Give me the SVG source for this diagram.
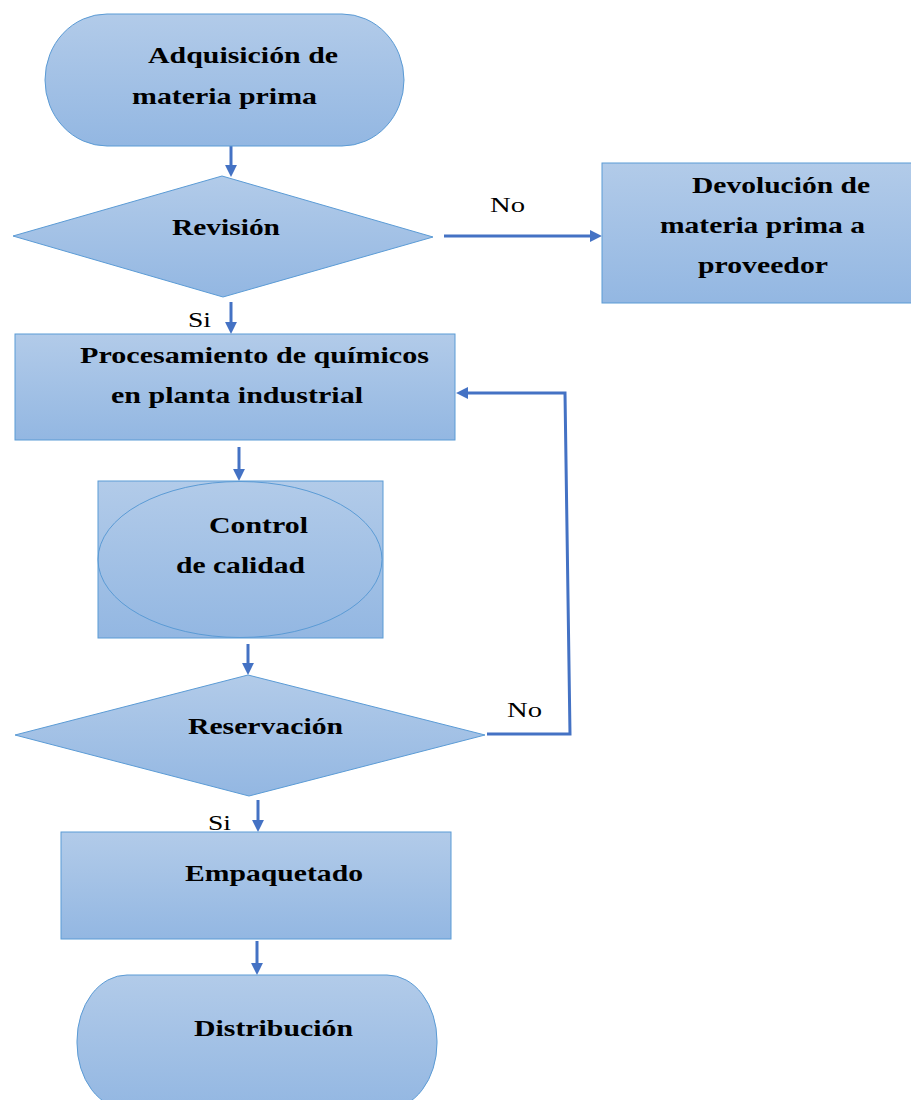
<svg xmlns="http://www.w3.org/2000/svg" width="911" height="1100" viewBox="0 0 911 1100">
<defs>
<linearGradient id="fillGrad" x1="0" y1="0" x2="0" y2="1">
<stop offset="0" stop-color="#b2cbe9"/>
<stop offset="1" stop-color="#93b7e2"/>
</linearGradient>
<marker id="arrow" viewBox="0 0 10 10" markerUnits="userSpaceOnUse" markerWidth="12" markerHeight="12" refX="3.4" refY="5" orient="auto">
<path d="M0,0 L10,5 L0,10 z" fill="#4472c4"/>
</marker>
</defs>
<style>
.shape{fill:url(#fillGrad);stroke:#5b9bd5;stroke-width:1}
.lbl{font-family:"Liberation Serif","Times New Roman",serif;font-weight:bold;font-size:23px;fill:#000}
.cond{font-family:"Liberation Serif","Times New Roman",serif;font-size:22px;fill:#000}
.conn{fill:none;stroke:#4472c4;stroke-width:3;marker-end:url(#arrow)}
</style>
<rect width="911" height="1100" fill="#ffffff"/>

<g id="connectors">
<line class="conn" x1="231" y1="146" x2="231" y2="169"/>
<line class="conn" x1="444" y1="236" x2="594" y2="236"/>
<line class="conn" x1="231" y1="302" x2="231" y2="326"/>
<line class="conn" x1="239" y1="447" x2="239" y2="473"/>
<line class="conn" x1="248" y1="644" x2="248" y2="667"/>
<line class="conn" x1="258" y1="800" x2="258" y2="824"/>
<line class="conn" x1="257" y1="941" x2="257" y2="967"/>
<polyline class="conn" points="487,734 570,734 565,393 464,393"/>
<text class="cond" x="490" y="212" textLength="35" lengthAdjust="spacingAndGlyphs">No</text>
<text class="cond" x="188" y="327" textLength="23" lengthAdjust="spacingAndGlyphs">Si</text>
<text class="cond" x="507" y="717" textLength="35" lengthAdjust="spacingAndGlyphs">No</text>
<text class="cond" x="208" y="830" textLength="23" lengthAdjust="spacingAndGlyphs">Si</text>
</g>

<g id="adquisicion">
<rect class="shape" x="45" y="14" width="359" height="132" rx="62" ry="66"/>
<text class="lbl" x="148" y="63" textLength="190" lengthAdjust="spacingAndGlyphs">Adquisición de</text>
<text class="lbl" x="132" y="104" textLength="185" lengthAdjust="spacingAndGlyphs">materia prima</text>
</g>

<g id="revision">
<polygon class="shape" points="222,176 433,237 223,297 13,236"/>
<text class="lbl" x="172" y="235" textLength="108" lengthAdjust="spacingAndGlyphs">Revisión</text>
</g>

<g id="devolucion">
<rect class="shape" x="602" y="163" width="312" height="140"/>
<text class="lbl" x="692" y="193" textLength="178" lengthAdjust="spacingAndGlyphs">Devolución de</text>
<text class="lbl" x="660" y="233" textLength="205" lengthAdjust="spacingAndGlyphs">materia prima a</text>
<text class="lbl" x="698" y="273" textLength="130" lengthAdjust="spacingAndGlyphs">proveedor</text>
</g>

<g id="procesamiento">
<rect class="shape" x="15" y="334" width="440" height="106"/>
<text class="lbl" x="80" y="363" textLength="349" lengthAdjust="spacingAndGlyphs">Procesamiento de químicos</text>
<text class="lbl" x="111" y="403" textLength="252" lengthAdjust="spacingAndGlyphs">en planta industrial</text>
</g>

<g id="control">
<rect class="shape" x="98" y="481" width="285" height="157"/>
<ellipse cx="240" cy="559.5" rx="142" ry="78" fill="none" stroke="#5b9bd5" stroke-width="1"/>
<text class="lbl" x="209" y="533" textLength="99" lengthAdjust="spacingAndGlyphs">Control</text>
<text class="lbl" x="176" y="573" textLength="129" lengthAdjust="spacingAndGlyphs">de calidad</text>
</g>

<g id="reservacion">
<polygon class="shape" points="248,675 485,735 249,796 15,735"/>
<text class="lbl" x="188" y="734" textLength="155" lengthAdjust="spacingAndGlyphs">Reservación</text>
</g>

<g id="empaquetado">
<rect class="shape" x="61" y="832" width="390" height="107"/>
<text class="lbl" x="185" y="881" textLength="178" lengthAdjust="spacingAndGlyphs">Empaquetado</text>
</g>

<g id="distribucion">
<rect class="shape" x="77" y="975" width="360" height="134" rx="50" ry="66"/>
<text class="lbl" x="194" y="1036" textLength="159" lengthAdjust="spacingAndGlyphs">Distribución</text>
</g>
</svg>
